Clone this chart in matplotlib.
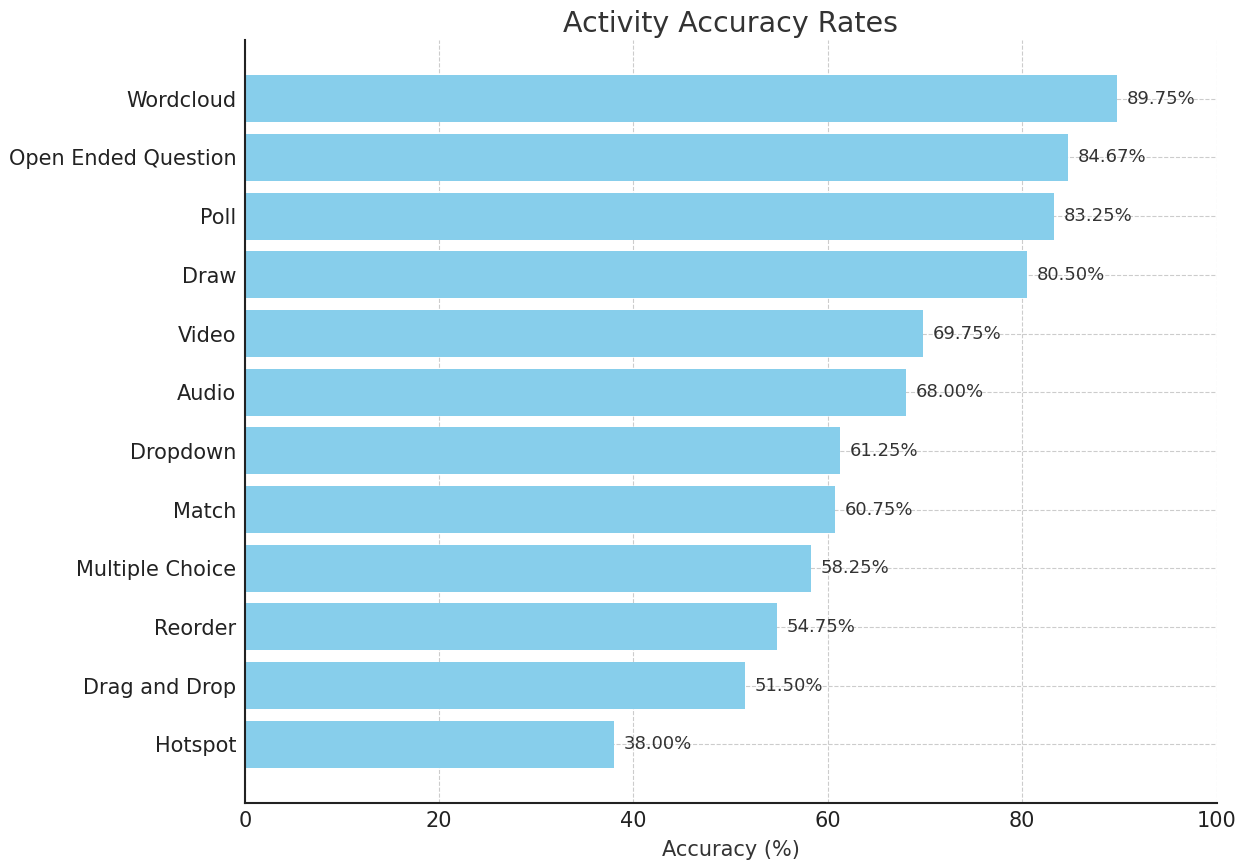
import matplotlib.pyplot as plt

# --- Données ---
activities = ["Hotspot", "Drag and Drop", "Reorder", "Multiple Choice", "Match",
              "Dropdown", "Audio", "Video", "Draw", "Poll",
              "Open Ended Question", "Wordcloud"]
accuracy = [38.00, 51.50, 54.75, 58.25, 60.75, 61.25, 68.00, 69.75, 80.50, 83.25, 84.67, 89.75]

fig = plt.figure(figsize=(12.49, 8.64), dpi=100)
ax = fig.add_axes([0.196, 0.0706, 0.778, 0.883])

bars = ax.barh(activities, accuracy, height=0.8, color='skyblue', zorder=2)

# Étiquettes de valeurs
for i, v in enumerate(accuracy):
    ax.text(v + 1, i, f"{v:.2f}%", va='center', ha='left', fontsize=13, color='#333333')

ax.set_xlim(0, 100)
ax.set_ylim(-1, len(activities))
ax.set_xlabel("Accuracy (%)", fontsize=15, color='#333333', labelpad=6)
ax.set_title("Activity Accuracy Rates", fontsize=20.5, color='#333333', pad=6)
ax.tick_params(axis='both', labelsize=15, colors='#222222', length=0, pad=6)

ax.grid(True, linestyle='--', color='#cccccc', linewidth=0.8, zorder=0)
ax.spines['top'].set_visible(False)
ax.spines['right'].set_visible(False)
ax.spines['left'].set_color('#222222')
ax.spines['bottom'].set_color('#222222')
ax.spines['left'].set_linewidth(1.5)
ax.spines['bottom'].set_linewidth(1.5)

plt.savefig("out.png", dpi=100)
